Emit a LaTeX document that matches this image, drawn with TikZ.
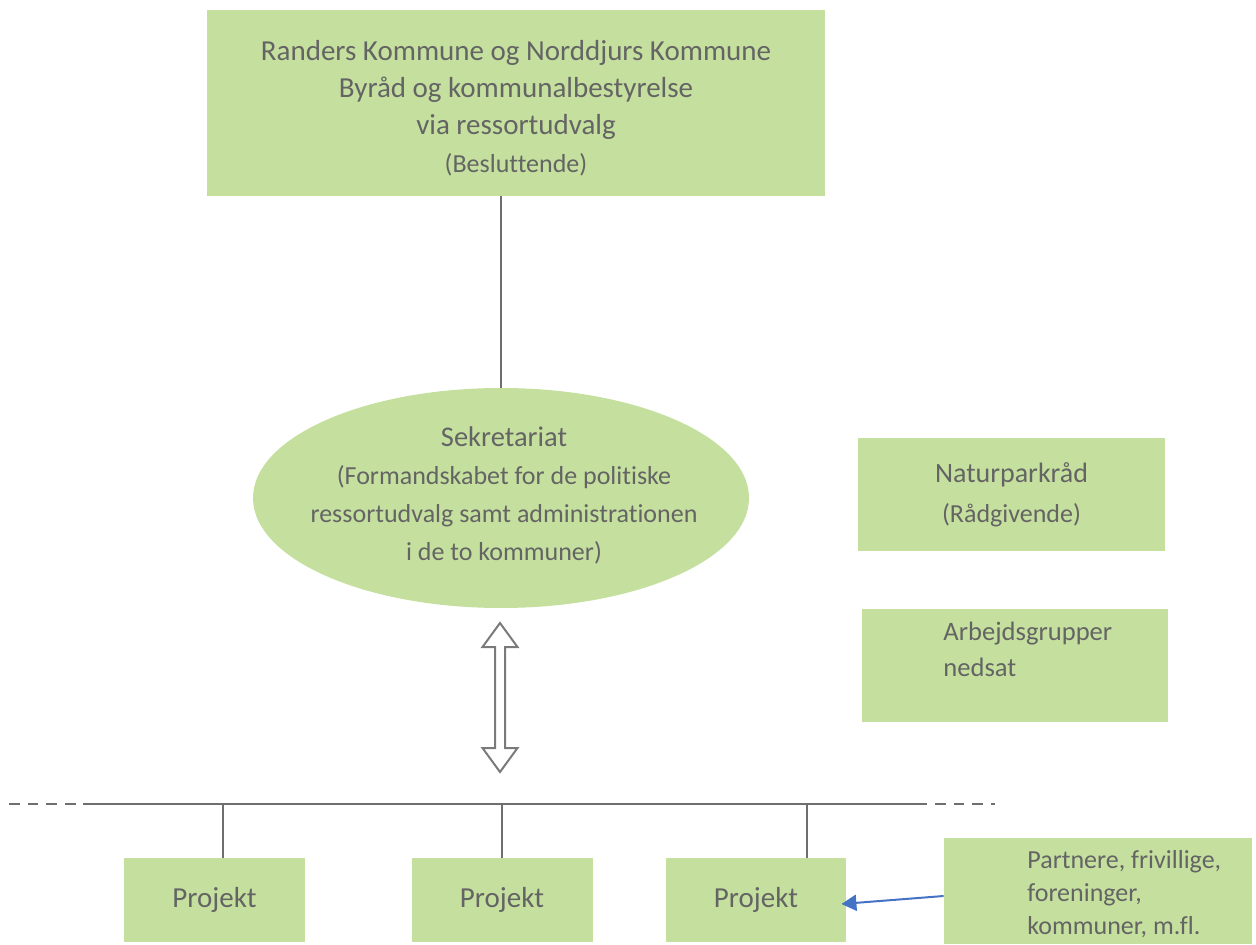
\documentclass[tikz,border=0pt]{standalone}
\usepackage{fontspec}
\setmainfont{Carlito}[Ligatures=NoCommon]
\usetikzlibrary{arrows.meta,calc,shapes.geometric}
\definecolor{boxgreen}{HTML}{C5E09E}
\definecolor{txtgray}{HTML}{646464}
\definecolor{linegray}{HTML}{6E6E6E}
\definecolor{outlinegray}{HTML}{7A7A7A}
\definecolor{arrowblue}{HTML}{4472C4}
\begin{document}
\begin{tikzpicture}[x=0.5pt,y=-0.5pt,
  box/.style={fill=boxgreen, draw=none, inner sep=0pt, text=txtgray},
  txt/.style={text=txtgray, inner sep=0pt},
  conn/.style={draw=linegray, line width=1.2pt},
  bus/.style={draw=linegray, line width=1.35pt},
  busdash/.style={draw=linegray, line width=1.3pt, dash pattern=on 5.35pt off 4pt},
  blockarrow/.style={draw=outlinegray, line width=1pt, fill=white, line join=miter},
  feed/.style={draw=arrowblue, line width=1pt, -{Triangle[length=7.5pt,width=8pt]}}
]
\useasboundingbox (0,0) rectangle (1256,945);

% top box
\node[box, minimum width=309pt, minimum height=93pt] (top) at (516,103) {};
\node[txt, align=center, font=\fontsize{14.5}{18.6}\selectfont] (toptxt) at (516,108)
  {Randers Kommune og Norddjurs Kommune\\Byråd og kommunalbestyrelse\\via ressortudvalg\\{\fontsize{13}{16}\selectfont(Besluttende)}};

% secretariat ellipse
\node[box, ellipse, minimum width=248pt, minimum height=110pt] (sek) at (501,498) {};
\node[txt, align=center, font=\fontsize{13}{19}\selectfont] (sektxt) at (504,495)
  {{\fontsize{14.25}{19}\selectfont Sekretariat}\\(Formandskabet for de politiske\\ressortudvalg samt administrationen\\i de to kommuner)};

% side boxes
\node[box, minimum width=153.5pt, minimum height=56.5pt, align=center,
      font=\fontsize{14}{20}\selectfont] (natur) at (1011.5,494.5)
  {Naturparkråd\\{\fontsize{13}{20}\selectfont(Rådgivende)}};

\node[box, minimum width=153pt, minimum height=56.5pt] (arb) at (1015,665.5) {};
\node[txt, anchor=north west, align=left, font=\fontsize{13.3}{17.8}\selectfont]
  (arbtxt) at (943,622) {Arbejdsgrupper\\nedsat};

% project boxes
\node[box, minimum width=90.5pt, minimum height=42pt, font=\fontsize{14.5}{17}\selectfont] (p1) at (214.5,900) {Projekt};
\node[box, minimum width=90.5pt, minimum height=42pt, font=\fontsize{14.5}{17}\selectfont] (p2) at (502,900) {Projekt};
\node[box, minimum width=90pt, minimum height=42pt, font=\fontsize{14.5}{17}\selectfont] (p3) at (756,900) {Projekt};

% partner box
\node[box, minimum width=154pt, minimum height=53pt] (part) at (1098,891) {};
\node[txt, anchor=north west, align=left, font=\fontsize{13}{16.6}\selectfont]
  (parttxt) at (1027,850) {Partnere, frivillige,\\foreninger,\\kommuner, m.fl.};

% connector top -> secretariat
\draw[conn] (top.south -| sek.north) -- (sek.north);

% bus line
\coordinate (busL) at (9,804);
\coordinate (busA) at (83,804);
\coordinate (busB) at (927,804);
\coordinate (busR) at (995,804);
\draw[bus] (busA) -- (busB);
\draw[busdash] (busL) -- (busA);
\draw[busdash, dash phase=5.35pt] (busB) -- (busR);

% drops
\coordinate (d1) at (223,804);
\coordinate (d2) at (502,804);
\coordinate (d3) at (807,804);
\draw[conn, line width=1.1pt] (d1) -- (d1 |- p1.north);
\draw[conn, line width=1.1pt] (d2) -- (d2 |- p2.north);
\draw[conn, line width=1.1pt] (d3) -- (d3 |- p3.north);

% double block arrow between secretariat and bus
\draw[blockarrow] (500,623) -- (517.5,647) -- (505,647) -- (505,748) -- (517.5,748)
  -- (500,772) -- (482.5,748) -- (495,748) -- (495,647) -- (482.5,647) -- cycle;

% blue arrow partners -> project
\draw[feed] ($(part.west)+(0,5)$) -- ($(p3.east)+(-5,4)$);
\end{tikzpicture}
\end{document}
